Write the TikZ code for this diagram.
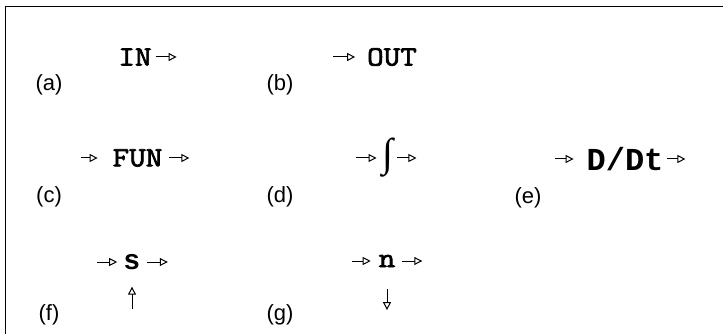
\documentclass[tikz,border=0pt]{standalone}
\usepackage{fontspec}
\usetikzlibrary{positioning,arrows.meta}
\newfontfamily\labelfont{Liberation Sans}
\newfontfamily\dfont{Liberation Mono}
\newfontfamily\intfont{Liberation Serif}
\newfontfamily\codefont[FakeBold=2.5,FakeStretch=1.15]{Latin Modern Mono}

\begin{document}
\begin{tikzpicture}[
    x=1pt, y=-1pt,
    node distance=20pt,
    tag/.style={font=\labelfont\fontsize{22}{22}\selectfont, inner sep=0pt},
    blk/.style={font=\codefont\fontsize{28}{28}\selectfont, inner sep=4pt, outer sep=0pt},
    sig/.style={-{Triangle[open,length=8pt,width=8pt]}, line width=1pt}
  ]
    \useasboundingbox (0,0) rectangle (723,334);
    \draw[line width=1pt] (723,7) -- (5,7) -- (5,334);

    % top row
    \node[blk] (in) at (135,57) {IN};
    \node[blk] (out) at (392,57) {OUT};
    \coordinate[right=21pt of in] (in-end);
    \coordinate[left=30pt of out] (out-start);
    \node[tag] (la) at (49,85) {(a)};
    \node[tag] (lb) at (280,85) {(b)};

    % middle row
    \node[blk] (fun) at (137.5,158) {FUN};
    \node[blk, font=\intfont\fontsize{40}{40}\selectfont] (intg) at (388,158) {∫};
    \node[blk, font=\dfont\bfseries\fontsize{32}{32}\selectfont] (ddt) at (625,159) {D/Dt};
    \coordinate[left=28pt of fun] (fun-in);
    \coordinate[right=23pt of fun] (fun-out);
    \coordinate[left=23pt of intg] (intg-in);
    \coordinate[right=19pt of intg] (intg-out);
    \coordinate[left=28pt of ddt] (ddt-in);
    \coordinate[right=18pt of ddt] (ddt-out);
    \node[tag] (lc) at (49,197) {(c)};
    \node[tag] (ld) at (280,197) {(d)};
    \node[tag] (le) at (528,198) {(e)};

    % bottom row
    \node[blk, font=\labelfont\bfseries\fontsize{28}{28}\selectfont] (s) at (132,262) {s};
    \node[blk] (n) at (387,261) {n};
    \coordinate[left=23pt of s] (s-in);
    \coordinate[right=24pt of s] (s-out);
    \coordinate[below=35pt of s] (s-ctl);
    \coordinate[left=23pt of n] (n-in);
    \coordinate[right=23pt of n] (n-out);
    \coordinate[below=39pt of n] (n-ctl);
    \node[tag] (lf) at (49,315) {(f)};
    \node[tag] (lg) at (280,315) {(g)};

    \draw[sig] (in) -- (in-end);
    \draw[sig, shorten >=8pt] (out-start) -- (out);
    \draw[sig, shorten >=11pt] (fun-in) -- (fun);
    \draw[sig, shorten <=3pt] (fun) -- (fun-out);
    \draw[sig, shorten >=2pt] (intg-in) -- (intg);
    \draw[sig] (intg) -- (intg-out);
    \draw[sig, shorten >=9pt] (ddt-in) -- (ddt);
    \draw[sig] (ddt) -- (ddt-out);
    \draw[sig, shorten >=3pt] (s-in) -- (s);
    \draw[sig, shorten <=3pt] (s) -- (s-out);
    \draw[sig, shorten >=13pt] (s-ctl) -- (s);
    \draw[sig, shorten >=4pt] (n-in) -- (n);
    \draw[sig, shorten <=3pt] (n) -- (n-out);
    \draw[sig, shorten <=18pt] (n) -- (n-ctl);
  \end{tikzpicture}
\end{document}
